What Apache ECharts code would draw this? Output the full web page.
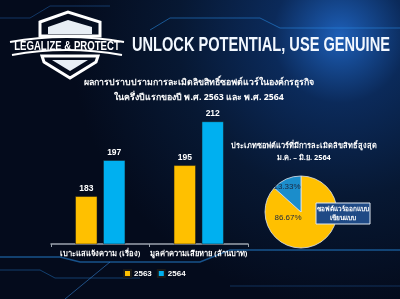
<!DOCTYPE html>
<html><head><meta charset="utf-8">
<script src="https://cdn.jsdelivr.net/npm/echarts@6/dist/echarts.min.js"></script>
<style>html,body{margin:0;padding:0;background:#07122a}#c{width:400px;height:299px}</style>
</head><body><div id="c"></div>
<script>
const categories = ['เบาะแสแจ้งความ (เรื่อง)', 'มูลค่าความเสียหาย (ล้านบาท)'];
const seriesNames = ['2563', '2564'];
const values2563 = [183, 195];
const values2564 = [197, 212];
const pieNames = ['ซอฟต์แวร์ออกแบบ เขียนแบบ', 'อื่นๆ'];
const pieValues = [86.67, 13.33];
const pieLabels = ['86.67%', '13.33%'];
const headerText = 'UNLOCK POTENTIAL, USE GENUINE';
const logoText = 'LEGALIZE & PROTECT';
const barTitle = 'ผลการปราบปรามการละเมิดลิขสิทธิ์ซอฟต์แวร์ในองค์กรธุรกิจ\nในครึ่งปีแรกของปี พ.ศ. 2563 และ พ.ศ. 2564';
const pieTitle = 'ประเภทซอฟต์แวร์ที่มีการละเมิดลิขสิทธิ์สูงสุด\nม.ค. – มิ.ย. 2564';
const calloutText = 'ซอฟต์แวร์ออกแบบ\nเขียนแบบ';

const chart = echarts.init(document.getElementById('c'));
const thaiFont = '"Noto Sans", "DejaVu Sans", sans-serif';
const lineCol = 'rgba(40,140,230,0.55)';
chart.setOption({
  backgroundColor: {
    type: 'radial', x: 0.85, y: 0.12, r: 0.9,
    colorStops: [{offset: 0, color: '#1d5fb8'}, {offset: 0.25, color: '#0b2a5a'}, {offset: 0.6, color: '#071833'}, {offset: 1, color: '#040b1c'}]
  },
  graphic: [
    {type: 'polyline', shape: {points: [[150,30],[170,18],[260,18],[280,28],[400,28]]}, style: {stroke: lineCol, lineWidth: 1, fill: null}, z: 0},
    {type: 'polyline', shape: {points: [[0,18],[30,18],[50,6],[110,6]]}, style: {stroke: 'rgba(40,120,210,0.4)', lineWidth: 1, fill: null}, z: 0},
    {type: 'polyline', shape: {points: [[0,257],[60,257],[80,262],[200,262],[230,250],[400,250]]}, style: {stroke: lineCol, lineWidth: 1.5, fill: null}, z: 0},
    {type: 'polyline', shape: {points: [[0,270],[40,270],[55,278],[140,278]]}, style: {stroke: 'rgba(40,140,230,0.4)', lineWidth: 1, fill: null}, z: 0},
    {type: 'polyline', shape: {points: [[65,299],[110,262]]}, style: {stroke: 'rgba(60,150,240,0.5)', lineWidth: 1, fill: null}, z: 0},
    {type: 'polyline', shape: {points: [[230,286],[400,286]]}, style: {stroke: 'rgba(40,120,210,0.35)', lineWidth: 1, fill: null}, z: 0},
    {type: 'polygon', shape: {points: [[40,22],[68,12],[100,22],[100,36],[40,36]]}, style: {fill: 'none', stroke: '#ffffff', lineWidth: 3}, z: 5},
    {type: 'polygon', shape: {points: [[48,27],[68,20],[92,27],[92,34],[48,34]]}, style: {fill: '#e8eef5'}, z: 5},
    {type: 'polygon', shape: {points: [[42,56],[98,56],[96,62],[70,78],[44,62]]}, style: {fill: 'none', stroke: '#ffffff', lineWidth: 3}, z: 5},
    {type: 'polygon', shape: {points: [[52,60],[88,60],[70,71]]}, style: {fill: '#e8eef5'}, z: 5},
    {type: 'bezierCurve', shape: {x1: 10, y1: 42, cpx1: 66, cpy1: 32, x2: 124, y2: 42}, style: {stroke: '#ffffff', lineWidth: 2, fill: null}, z: 5},
    {type: 'bezierCurve', shape: {x1: 12, y1: 55, cpx1: 66, cpy1: 45, x2: 122, y2: 55}, style: {stroke: '#ffffff', lineWidth: 2, fill: null}, z: 5},
    {type: 'text', x: 67, y: 47, style: {text: logoText, fill: '#ffffff', font: 'bold 12px "Liberation Sans", sans-serif', textAlign: 'center', textVerticalAlign: 'middle'}, scaleX: 0.8, z: 6},
    {type: 'text', x: 132, y: 45, style: {text: headerText, fill: '#f2f8ff', font: 'bold 20px "Liberation Sans", sans-serif', textVerticalAlign: 'middle', shadowColor: 'rgba(120,200,255,0.6)', shadowBlur: 3}, scaleX: 0.73, z: 6},
    {type: 'text', x: 199, y: 89.5, style: {text: barTitle, fill: '#ffffff', font: 'bold 8.8px ' + thaiFont, textAlign: 'center', textVerticalAlign: 'middle', lineHeight: 15}, z: 6},
    {type: 'text', x: 304, y: 152, style: {text: pieTitle, fill: '#ffffff', font: 'bold 7.4px ' + thaiFont, textAlign: 'center', textVerticalAlign: 'middle', lineHeight: 12}, z: 6},
    {type: 'rect', shape: {x: 316, y: 203, width: 54, height: 21}, style: {fill: '#1f4a86', stroke: '#dfe8f2', lineWidth: 1}, z: 10},
    {type: 'text', x: 343, y: 213.5, style: {text: calloutText, fill: '#ffffff', font: 'bold 6.5px ' + thaiFont, textAlign: 'center', textVerticalAlign: 'middle', lineHeight: 9}, z: 11}
  ],
  legend: {
    data: seriesNames, left: 118, top: 264, itemWidth: 7, itemHeight: 7, itemGap: 5,
    icon: 'rect',
    textStyle: {color: '#ffffff', fontSize: 8, fontWeight: 'bold', fontFamily: 'Liberation Sans', padding: [0,0,0,-2]}
  },
  grid: {left: 51, right: 152, top: 115, bottom: 55, containLabel: false},
  xAxis: {
    type: 'category', data: categories,
    axisLine: {lineStyle: {color: '#9aa3ad', width: 1.5}},
    axisTick: {show: true, length: 3, lineStyle: {color: '#9aa3ad'}},
    axisLabel: {color: '#ffffff', fontSize: 7.6, fontWeight: 'bold', fontFamily: thaiFont, margin: 6, interval: 0}
  },
  yAxis: {type: 'value', min: 164.5, max: 214.5, show: false, splitLine: {show: false}},
  series: [
    {name: '2563', type: 'bar', data: values2563, barWidth: 22, barGap: '27%',
     itemStyle: {color: '#FFC000', borderColor: '#1a1a1a', borderWidth: 0.5},
     label: {show: true, position: 'top', color: '#ffffff', fontSize: 8.5, fontWeight: 'bold', fontFamily: 'Liberation Sans', distance: 3}},
    {name: '2564', type: 'bar', data: values2564, barWidth: 22,
     itemStyle: {color: '#00B0F0', borderColor: '#1a1a1a', borderWidth: 0.5},
     label: {show: true, position: 'top', color: '#ffffff', fontSize: 8.5, fontWeight: 'bold', fontFamily: 'Liberation Sans', distance: 3}},
    {type: 'pie', center: [301, 212], radius: 36, startAngle: 90, clockwise: true,
     data: pieNames.map((n, i) => ({name: n, value: pieValues[i], label: {formatter: pieLabels[i]}})),
     color: ['#FFC000', '#1B8DCB'],
     itemStyle: {borderColor: '#e0e6ee', borderWidth: 0.8},
     label: {show: true, position: 'inside', color: '#1b2740', fontSize: 8, fontFamily: 'Liberation Sans'},
     labelLine: {show: false},
     labelLayout: function (p) { return p.dataIndex === 0 ? {x: 288, y: 218} : {x: 287, y: 187}; },
     emphasis: {disabled: true}, silent: true}
  ]
});
</script></body></html>
